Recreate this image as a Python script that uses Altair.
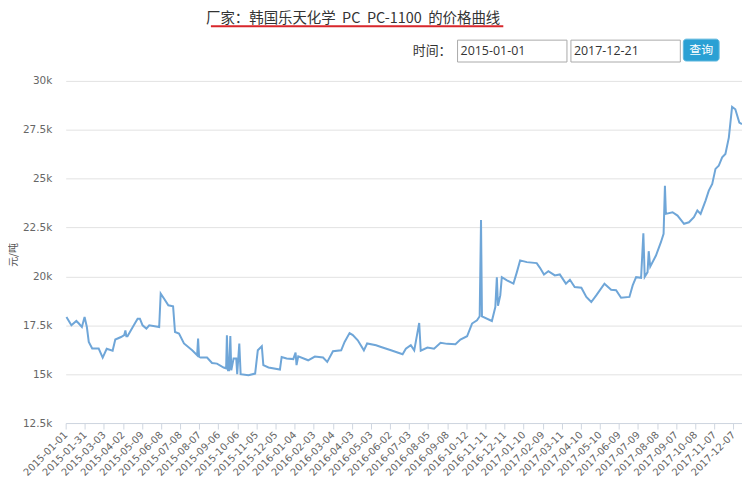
import altair as alt
import pandas as pd

# x tick labels of the category axis (one label per step)
tick_labels = [
    "2015-01-01", "2015-01-31", "2015-03-03", "2015-04-02", "2015-05-09", "2015-06-08",
    "2015-07-08", "2015-08-07", "2015-09-06", "2015-10-06", "2015-11-05", "2015-12-05",
    "2016-01-04", "2016-02-03", "2016-03-04", "2016-04-03", "2016-05-03", "2016-06-02",
    "2016-07-03", "2016-08-05", "2016-09-08", "2016-10-12", "2016-11-11", "2016-12-11",
    "2017-01-10", "2017-02-09", "2017-03-11", "2017-04-10", "2017-05-10", "2017-06-09",
    "2017-07-09", "2017-08-08", "2017-09-07", "2017-10-08", "2017-11-07", "2017-12-07",
]

# position along the category axis (in label steps) and price (元/吨)
pos = [
    0.04, 0.30, 0.56, 0.69, 0.85, 0.99, 1.11, 1.21, 1.39, 1.73, 1.94, 2.15, 2.46, 2.60,
    2.90, 3.07, 3.13, 3.18, 3.24, 3.51, 3.77, 3.89, 4.03, 4.23, 4.38, 4.90, 4.98, 5.16,
    5.38, 5.63, 5.73, 5.94, 6.20, 6.63, 6.89, 6.94, 6.99, 7.07, 7.41, 7.67, 7.93, 8.28,
    8.41, 8.45, 8.51, 8.57, 8.63, 8.68, 8.80, 8.94, 8.99, 9.10, 9.17, 9.58, 9.93, 10.07,
    10.28, 10.36, 10.63, 11.23, 11.32, 11.58, 11.93, 12.05, 12.10, 12.19, 12.71, 13.06,
    13.49, 13.71, 14.01, 14.44, 14.62, 14.88, 15.05, 15.31, 15.63, 15.80, 16.27, 16.53,
    17.05, 17.66, 17.83, 18.09, 18.27, 18.53, 18.61, 18.96, 19.31, 19.65, 20.00, 20.43,
    20.69, 21.04, 21.30, 21.56, 21.70, 21.77, 21.82, 22.34, 22.52, 22.60, 22.66, 22.78,
    22.86, 23.13, 23.47, 23.65, 23.82, 24.17, 24.69, 24.86, 25.07, 25.30, 25.64, 25.90,
    26.22, 26.43, 26.68, 27.03, 27.29, 27.55, 27.81, 28.24, 28.59, 28.85, 29.11, 29.55,
    29.72, 29.90, 30.16, 30.28, 30.35, 30.50, 30.56, 30.64, 30.94, 31.20, 31.34, 31.41,
    31.46, 31.81, 32.07, 32.41, 32.67, 32.93, 33.11, 33.28, 33.54, 33.71, 33.89, 34.06,
    34.23, 34.41, 34.58, 34.76, 34.93, 35.10, 35.31, 35.45,
]
price = [
    17920, 17500, 17720, 17590, 17410, 17920, 17410, 16650, 16310, 16310, 15850, 16300, 16200, 16770,
    16900, 17000, 17240, 16940, 16940, 17400, 17840, 17840, 17500, 17330, 17500, 17410, 19120, 18860,
    18520, 18470, 17160, 17080, 16570, 16220, 15970, 16820, 15900, 15850, 15850, 15570, 15540, 15340,
    15300, 16990, 15200, 15200, 16950, 15200, 15800, 15800, 15000, 16570, 15000, 14950, 15030, 16220,
    16430, 15460, 15340, 15240, 15880, 15800, 15770, 16100, 15460, 15910, 15710, 15900,
    15850, 15630, 16170, 16220, 16650, 17100, 17000, 16730, 16220, 16570, 16480, 16390,
    16220, 16020, 16300, 16480, 16220, 17620, 16200, 16360, 16300, 16600, 16550, 16530,
    16770, 16940, 17590, 17760, 17960, 22890, 17960, 17720, 18430, 19960, 18500, 19030,
    19960, 19800, 19630, 20220, 20820, 20730, 20680, 20440, 20100, 20270, 20050, 20100,
    19630, 19830, 19460, 19420, 18950, 18690, 19030, 19630, 19320, 19290, 18910, 18950,
    19540, 19960, 19930, 22210, 19980, 20220, 21290, 20500, 21070, 21750, 22180, 24640,
    23200, 23280, 23110, 22690, 22770, 23030, 23370, 23200, 23880, 24390, 24730, 25500,
    25660, 26090, 26260, 27100, 28670, 28550, 27870, 27790,
]

y_ticks = [12500, 15000, 17500, 20000, 22500, 25000, 27500, 30000]

df = pd.DataFrame({"pos": pos, "price": price})
one = pd.DataFrame({"k": [0]})

label_js = "[" + ",".join("'" + s + "'" for s in tick_labels) + "]"
NUM_FONT = "DejaVu Sans"
CJK = "Noto Sans CJK SC"
NB = "\u00a0"

line = alt.Chart(df).mark_line(color="#6fa6d8", strokeWidth=2, interpolate="linear").encode(
    x=alt.X(
        "pos:Q",
        scale=alt.Scale(domain=[0, 35.45], nice=False, zero=False),
        axis=alt.Axis(
            values=list(range(len(tick_labels))),
            labelExpr=label_js + "[datum.value]",
            labelAngle=-45,
            labelAlign="right",
            labelBaseline="middle",
            labelFont=NUM_FONT,
            labelFontSize=10,
            labelColor="#666666",
            labelPadding=4,
            labelOverlap=False,
            tickSize=6,
            tickColor="#cfd6e0",
            domainColor="#cfd6e0",
            grid=False,
            title=None,
        ),
    ),
    y=alt.Y(
        "price:Q",
        scale=alt.Scale(domain=[12500, 30000], nice=False, zero=False),
        axis=alt.Axis(
            values=y_ticks,
            labelExpr="datum.value / 1000 + 'k'",
            labelFont=NUM_FONT,
            labelFontSize=10.5,
            labelColor="#666666",
            labelPadding=14,
            ticks=False,
            domain=False,
            grid=True,
            gridColor="#e2e2e2",
            title=None,
        ),
    ),
)

base = alt.Chart(one)

y_title = base.mark_text(
    text="元/吨", angle=270, font=CJK, fontSize=10, color="#555555", align="center", baseline="middle"
).encode(x=alt.value(-52), y=alt.value(175))

title = base.mark_text(
    text="厂家：韩国乐天化学" + NB * 2 + "PC" + NB * 2 + "PC-1100" + NB * 2 + "的价格曲线",
    font=CJK, fontSize=14.5, color="#333333", align="center", baseline="middle",
).encode(x=alt.value(289), y=alt.value(-62))

underline = base.mark_rule(color="#d8262b", strokeWidth=2).encode(
    x=alt.value(146), x2=alt.value(440), y=alt.value(-55)
)

time_label = base.mark_text(
    text="时间：", font=CJK, fontSize=13, color="#333333", align="left", baseline="middle"
).encode(x=alt.value(349), y=alt.value(-30))

box1 = base.mark_rect(fill="white", stroke="#a9a9a9", strokeWidth=1).encode(
    x=alt.value(394), x2=alt.value(504), y=alt.value(-41), y2=alt.value(-19)
)
box2 = base.mark_rect(fill="white", stroke="#a9a9a9", strokeWidth=1).encode(
    x=alt.value(508), x2=alt.value(618), y=alt.value(-41), y2=alt.value(-19)
)
box1_text = base.mark_text(
    text="2015-01-01", font="Open Sans", fontSize=12.5, color="#333333", align="left", baseline="middle"
).encode(x=alt.value(397), y=alt.value(-30))
box2_text = base.mark_text(
    text="2017-12-21", font="Open Sans", fontSize=12.5, color="#333333", align="left", baseline="middle"
).encode(x=alt.value(511), y=alt.value(-30))

button = base.mark_rect(fill="#2aa0d4", stroke="#5fb7de", strokeWidth=1, cornerRadius=3).encode(
    x=alt.value(621), x2=alt.value(657), y=alt.value(-42), y2=alt.value(-20)
)
button_text = base.mark_text(
    text="查询", font=CJK, fontSize=12, color="white", align="center", baseline="middle"
).encode(x=alt.value(639), y=alt.value(-31))

chart = alt.layer(
    line, y_title, title, underline, time_label, box1, box2, box1_text, box2_text, button, button_text
).properties(
    width=680,
    height=344,
    padding={"left": 58, "top": 72, "right": 0, "bottom": 63},
    autosize=alt.AutoSizeParams(type="none"),
    background="white",
).configure_view(strokeWidth=0)

chart.save("out.html", embed_options={"renderer": "svg", "actions": False})
